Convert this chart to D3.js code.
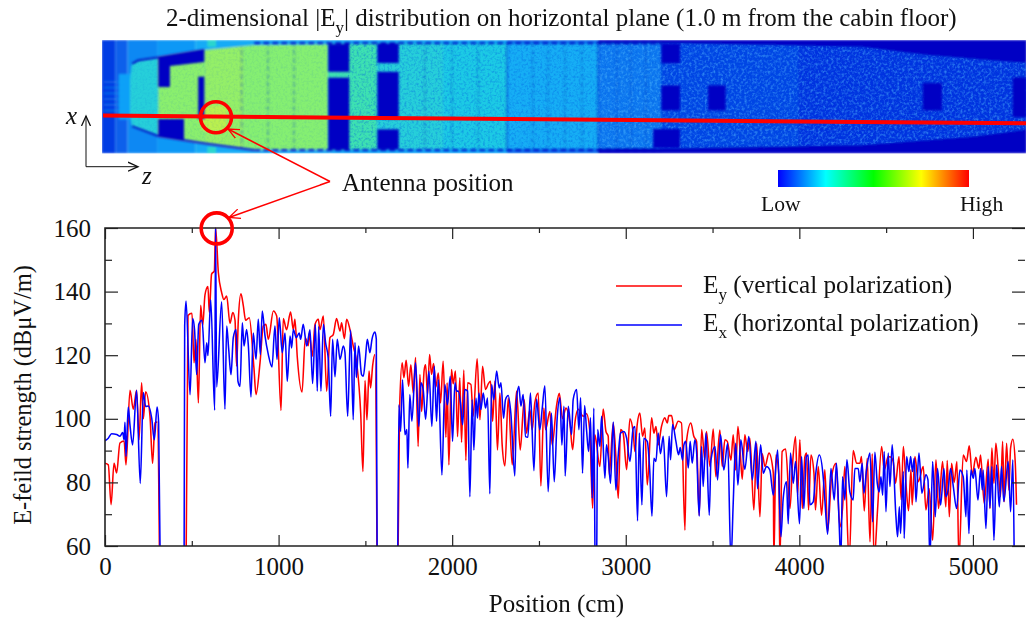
<!DOCTYPE html>
<html>
<head>
<meta charset="utf-8">
<script src="https://cdn.jsdelivr.net/npm/d3@7"></script>
<style>
  html, body { margin: 0; padding: 0; background: #fff; overflow: hidden; }
  svg { display: block; }
  text { font-family: "Liberation Serif", serif; fill: #111; }
</style>
</head>
<body>
<div id="chart"></div>
<script>
// E-field along the cabin as [position cm, dBuV/m]
// values under 60 just run off the bottom of the plot
const eyFront = [[0,86],[19,85.5],[35,73],[52,86],[67,83],[86,92.4],[110,93],[121,85.5],[144,109],[163,103],[182,109],[196,93.4],[211,111.3],[221,100],[234,108.5],[259,101],[274,86],[288,98.7],[301,99],[317,40]];
const exFront = [[0,93.1],[19,93.9],[38,95.3],[67,95.1],[86,94.5],[102,95.7],[110,93.4],[115,98.9],[121,88.2],[134,103.7],[144,98],[159,91.8],[182,109],[203,79.7],[221,108.3],[234,103.9],[250,104],[269,100.2],[284,93.4],[300,103.7],[309,98.7],[321,40]];

const eyMid = [[465,40],[478,132.5],[501,133.2],[513,117.6],[524,125],[538,105],[551,135.7],[563,129.4],[576,139],[593,141.6],[601,133.4],[614,145.5],[630,146.5],[637,160],[653,146],[672,139.7],[685,137.5],[701,138.6],[720,130],[736,133.4],[749,131],[758,116.6],[768,131],[783,139.3],[797,135.5],[810,131],[831,131.8],[858,116],[870,107.6],[893,117.6],[912,129.2],[927,129.7],[941,125],[970,133.9],[989,132.3],[1014,102.6],[1027,131.5],[1046,128],[1069,133.6],[1085,128],[1094,131.3],[1108,119.2],[1135,108.4],[1154,125.5],[1171,123],[1177,127],[1194,119.7],[1210,129.7],[1229,131.3],[1238,128],[1258,132.3],[1277,108.7],[1296,125.5],[1315,126.5],[1334,131.5],[1354,127.6],[1363,130.2],[1379,125.2],[1392,131.3],[1411,128.1],[1430,122.9],[1450,117.6],[1473,101.8],[1486,83.4],[1498,112],[1509,99.7],[1521,115],[1530,109.7],[1542,116.8],[1555,120.2],[1569,40]];
const exMid = [[455,40],[459,129.2],[467,137],[490,107.6],[505,131.5],[516,128],[528,113.9],[540,129.7],[559,131],[576,117.6],[586,123.9],[593,119.9],[609,137.4],[632,102.7],[637,160],[643,110],[672,136.8],[691,103],[701,129.2],[712,122.3],[726,113.9],[739,125.5],[755,128.1],[766,111.8],[778,110.2],[791,130.2],[801,122.9],[816,128.1],[826,122.9],[841,106.9],[854,127],[870,118.7],[883,131.3],[895,120.2],[906,133.9],[922,126],[941,120.2],[962,116.3],[979,129.2],[991,118.7],[1004,131.8],[1021,120.8],[1037,127],[1050,111.8],[1066,126],[1075,122.3],[1085,128.1],[1102,125.5],[1119,127],[1127,125],[1142,129.7],[1162,122.9],[1181,128],[1196,111.1],[1212,129.7],[1223,108.7],[1231,129],[1244,108.7],[1258,129.7],[1271,123.9],[1286,119],[1300,100.8],[1311,125],[1325,113.2],[1338,125],[1354,118.7],[1373,122.9],[1382,121],[1398,100.8],[1415,127.9],[1430,99.7],[1440,124],[1448,113],[1461,122.9],[1478,113.9],[1488,113.4],[1500,118.7],[1511,125],[1526,120.8],[1538,125],[1555,127.3],[1563,125],[1569,40]];

const eyRear = [[1685,40],[1697,102.9],[1712,117.6],[1722,112.9],[1735,118.4],[1749,110.2],[1762,117],[1776,108],[1789,119.3],[1804,91.3],[1814,113.9],[1824,102.3],[1839,115.5],[1847,117],[1858,107.6],[1870,120.2],[1881,114],[1893,117.4],[1906,110],[1920,114.4],[1933,105],[1948,118.1],[1964,94.2],[1971,111.3],[1981,85.5],[1996,115.5],[2006,111],[2019,115],[2031,94.4],[2044,112.9],[2054,92.6],[2067,115.3],[2079,86.9],[2089,111.3],[2108,110.8],[2121,100.8],[2144,118.9],[2160,99.7],[2175,116.5],[2192,109.2],[2208,111],[2221,111.8],[2233,99.2],[2246,111.8],[2261,90.2],[2275,108.1],[2288,91.8],[2304,85.2],[2323,106.5],[2346,85.5],[2371,108.7],[2392,90.2],[2415,106],[2428,95.5],[2448,102.9],[2461,96.5],[2476,105],[2496,108.1],[2511,78.9],[2528,103.4],[2538,96.6],[2563,102.3],[2576,91.8],[2601,104],[2617,108],[2636,100],[2655,103.4],[2678,98.7],[2694,90.3],[2707,98.7],[2726,103],[2755,100.8],[2774,101.6],[2793,96],[2809,71.9],[2822,95],[2851,85],[2870,103.1],[2886,96],[2899,94.5],[2905,82.4],[2928,98.7],[2943,88.2],[2957,75],[2970,96.6],[2985,95.5],[3005,84],[3024,100],[3043,95.5],[3053,89.7],[3066,98.2],[3081,101.8],[3097,94.5],[3110,97.1],[3124,79.2],[3149,100.3],[3162,95.5],[3174,97.6],[3187,91.8],[3206,97.6],[3225,100.3],[3239,98.7],[3248,101],[3264,101],[3279,96.6],[3302,99.2],[3321,98.7],[3341,65],[3350,93],[3375,98.7],[3392,94.5],[3408,92.9],[3423,69.7],[3437,96.6],[3456,87.1],[3465,96],[3485,85],[3504,96.8],[3519,81.8],[3542,96.5],[3556,85],[3571,93.4],[3585,92.9],[3606,87],[3619,95],[3633,83.9],[3646,97.6],[3660,89],[3671,81],[3686,95],[3702,89.7],[3715,93.9],[3738,71.3],[3754,92.3],[3773,69.2],[3786,89],[3802,85],[3825,89.2],[3850,83],[3853,55],[3865,88.6],[3882,82],[3888,55],[3901,89.7],[3921,90.5],[3946,71.8],[3961,86],[3978,94.4],[3990,76],[4003,93.4],[4017,71.8],[4032,88],[4042,89.2],[4053,71.3],[4067,88.6],[4084,83],[4093,71.3],[4109,85],[4128,69.7],[4147,84],[4163,64.5],[4186,81.8],[4211,86],[4234,66],[4249,72],[4262,85],[4287,55],[4310,90],[4330,86],[4349,86],[4358,88.1],[4374,71],[4391,87.6],[4407,61.3],[4420,89],[4430,55],[4451,71.8],[4474,91.3],[4489,83.9],[4512,88.1],[4526,88],[4541,86.5],[4554,79.7],[4574,88.1],[4587,74.5],[4599,91.3],[4614,79.7],[4629,71.1],[4643,84],[4650,72.9],[4666,88.1],[4685,80.2],[4714,85],[4729,71.3],[4748,78],[4768,61.8],[4787,87.1],[4802,71.8],[4825,86.6],[4844,72.3],[4852,86.9],[4864,69.2],[4877,86],[4892,80],[4908,86.6],[4919,55],[4944,88.6],[4963,86.6],[4979,91.5],[4996,82.4],[5017,87.9],[5034,84.4],[5044,88.6],[5065,73.4],[5088,87.3],[5098,71.8],[5109,90.8],[5121,79.7],[5132,92.3],[5146,84],[5159,75.5],[5171,92.9],[5180,73.9],[5194,92.3],[5207,77.6],[5217,90.8],[5230,93.6],[5244,86],[5251,73]];
const exRear = [[1685,40],[1693,104.4],[1703,96],[1714,112.3],[1728,95],[1739,96.6],[1745,84.5],[1756,107.6],[1768,99.2],[1789,117.6],[1808,97.6],[1820,111.3],[1833,109.2],[1847,99.9],[1866,115],[1883,97.6],[1897,116.5],[1910,99.2],[1920,112.3],[1941,82.3],[1958,110.8],[1973,104.4],[1989,113.4],[2002,92.9],[2016,111.3],[2025,108.7],[2035,108.7],[2048,105],[2060,98.1],[2073,109.2],[2089,108.7],[2102,75.5],[2115,106],[2125,90.2],[2137,106.5],[2146,100.2],[2154,108.1],[2165,102.9],[2179,108.1],[2192,103.4],[2204,106.5],[2217,76.4],[2227,110.8],[2240,106],[2256,115],[2271,109.7],[2281,111.3],[2296,100.2],[2307,106],[2323,107.3],[2338,101.8],[2361,82],[2371,106],[2384,110.2],[2396,104],[2409,107.6],[2423,94.4],[2436,94.2],[2451,108.1],[2471,83.7],[2486,106.2],[2505,96.6],[2519,103.4],[2534,110.4],[2553,77.1],[2572,101.8],[2588,80.2],[2605,100.3],[2621,106.6],[2632,91.8],[2644,103.9],[2651,82],[2669,103.9],[2688,95],[2697,106],[2717,109.2],[2730,96.6],[2740,106.6],[2751,82.9],[2763,104.2],[2774,96.6],[2786,89.7],[2797,100.3],[2807,75],[2816,103.4],[2826,40],[2830,40],[2838,96.6],[2851,91.3],[2861,100.8],[2880,81.3],[2889,91.8],[2899,88.2],[2912,79.7],[2928,99],[2943,77.6],[2957,88.7],[2970,95.5],[2989,96],[3005,93.9],[3024,86.6],[3043,97.1],[3053,97.6],[3068,67.9],[3078,95.5],[3093,72.9],[3104,93.9],[3124,92.9],[3137,85],[3151,69.4],[3162,87.6],[3174,86.6],[3187,95.5],[3200,89],[3216,94.5],[3235,75.5],[3250,94.5],[3258,87.1],[3270,98.2],[3289,92.9],[3304,88.7],[3314,91],[3327,87],[3335,91.8],[3346,92.9],[3360,84.5],[3371,92.9],[3383,86],[3398,93.4],[3408,89.7],[3423,69.4],[3437,91.3],[3446,78.7],[3462,95.5],[3481,69.7],[3491,87.1],[3514,91.3],[3529,80.8],[3546,95],[3565,83.9],[3587,92.3],[3606,55],[3619,73.4],[3633,92.3],[3646,79.2],[3663,93.4],[3686,84.1],[3709,94.4],[3729,80.8],[3750,92.9],[3759,78],[3777,91.8],[3792,82.9],[3811,85],[3830,83.9],[3850,76],[3875,90.2],[3894,62.9],[3907,75],[3926,80.2],[3936,67],[3949,89.2],[3965,79.7],[3978,86.6],[4001,67],[4013,88.1],[4026,71.8],[4040,88],[4051,88.6],[4061,73],[4080,73.9],[4093,82],[4115,88.6],[4138,81.3],[4147,74.5],[4163,63.7],[4182,84.4],[4201,74.5],[4214,86],[4230,66],[4239,55],[4249,81.8],[4262,74.5],[4274,87.1],[4291,77],[4310,74.5],[4320,84.4],[4339,84.4],[4349,80.2],[4362,86],[4372,76.6],[4387,83.9],[4407,89.2],[4422,67.6],[4435,89.5],[4449,79.7],[4460,77],[4470,81.8],[4480,76],[4489,89.7],[4499,70.8],[4512,89.2],[4522,78.7],[4535,91.8],[4556,69.7],[4566,62.9],[4576,72.3],[4583,63.9],[4599,83.4],[4604,62.4],[4618,88.1],[4631,83.4],[4641,88.1],[4652,83.4],[4662,87.6],[4672,73.9],[4689,89.2],[4706,76.6],[4729,82.4],[4741,80.8],[4752,55],[4768,86.6],[4783,69.2],[4796,84.4],[4814,72.9],[4833,84.4],[4844,75.5],[4858,78],[4871,84.4],[4887,78.7],[4906,71.8],[4925,83.9],[4944,81.8],[4960,69.2],[4965,83.9],[4977,63.9],[4988,83.9],[5002,81.3],[5011,84.4],[5029,74.5],[5044,84.4],[5054,77.6],[5059,83.9],[5075,65.5],[5088,85],[5098,72],[5109,85],[5121,61.8],[5136,85.5],[5152,72.3],[5165,85],[5178,74],[5203,86.6],[5217,70.8],[5230,87.1],[5238,55]];

const xMajor = [0, 1000, 2000, 3000, 4000, 5000];
const xMinor = [500, 1500, 2500, 3500, 4500];
const yMajor = [60, 80, 100, 120, 140, 160];
const yMinor = [70, 90, 110, 130, 150];

// heat map zones: [z from, z to, % across from, % across to, level]
const outerZones = [[-20,60,0,100,.07],[60,130,0,100,.12],[130,300,0,100,.17],[300,520,0,100,.19],[520,1300,0,100,.23],[1300,2316,0,100,.21],[2316,2840,0,100,.14],[2840,5310,0,100,-.1]];
const noseGlow = [[80,156,30,70,.2],[590,640,0,6,.36],[590,640,94,100,.36]];
const noseRays = [38, 43, 48, 53, 58, 63];
const cabinZones = [[100,307,0,100,.34],[307,572,0,100,.55],[572,800,0,100,.57],[800,1286,0,100,.54],[560,700,20,42,.66],[1286,1569,0,100,.41],[1569,1950,0,100,.34],[1950,2316,0,100,.32],[2316,2840,0,100,.24],[2840,3206,0,100,.15],[3206,4000,0,100,.08],[4000,5310,0,100,.05]];
const darkBlocks = [[537,572,30.4,67.7],[307,455,0,30.4],[1286,1407,72,100],[1286,1407,0,66.8],[1569,1692,79.7,100],[1569,1692,30.4,72],[1569,1692,0,21.3],[3206,3312,79.5,100],[3206,3312,38,60],[3158,3312,0,21.6],[3475,3575,38,60],[4712,4821,38,62],[5230,5310,32,67]];
const galleyBlock = [[307,100],[572,100],[572,80.6],[374,77],[374,58.6],[307,58.6]];
const cabinOutline = [[144,65],[156,79],[190,82],[307,84.7],[572,91.2],[860,95.5],[1700,97],[3312,97],[4360,93.8],[4735,86.8],[5220,80.6],[5310,80],[5310,22],[5290,20.7],[4990,14.8],[4360,7.5],[3312,4.8],[860,3],[572,9],[307,15.4],[156,24],[144,35]];
const bulkheadsFaint = [787, 939, 1089, 1843, 1999, 2149, 2465, 2552, 2650, 2748, 2949, 3030, 3116];
const bulkheadsSolid = [2316, 2840];

const colorStops = [0, .25, .5, .75, 1];
const colorBarColors = ["#0000ff", "#00ffff", "#00ff00", "#ffff00", "#ff0000"];

const W = 1026, H = 621;
const plot = {left: 105, right: 1025, top: 228, bottom: 546};

const svg = d3.select("#chart").append("svg").attr("width", W).attr("height", H);
const defs = svg.append("defs");

const x = d3.scaleLinear().domain([0, 5300]).range([plot.left, plot.right]);
const y = d3.scaleLinear().domain([60, 160]).range([plot.bottom, plot.top]);
const across = d3.scaleLinear().domain([0, 100]).range([153.5, 40]);
// softer than the colour bar, the map in the picture looks washed out
const heat = d3.scaleLinear()
    .domain([-.1, 0, .1, .2, .3, .4, .5, .6, .7])
    .range(["#0000c4", "#0014d8", "#0850e8", "#10a0f8", "#18c4f0", "#38e0b8", "#70ee80", "#a4f05c", "#c8f048"]);

// ---- heat map ----
defs.append("clipPath").attr("id", "mapClip").append("rect")
    .attr("x", 102).attr("y", 40).attr("width", 924).attr("height", 113.5);
const polyLine = d3.line().x(d => x(d[0])).y(d => across(d[1]));
defs.append("clipPath").attr("id", "cabinClip").append("path")
    .attr("d", polyLine(cabinOutline) + "Z");

const soft = defs.append("filter").attr("id", "soft");
soft.append("feGaussianBlur").attr("stdDeviation", .8);

function mottle(id, seed, freq, matrix) {
    const f = defs.append("filter").attr("id", id)
        .attr("x", 0).attr("y", 0).attr("width", 1).attr("height", 1);
    f.append("feTurbulence").attr("type", "fractalNoise")
        .attr("baseFrequency", freq).attr("numOctaves", 2).attr("seed", seed);
    f.append("feColorMatrix").attr("type", "matrix").attr("values", matrix);
}
mottle("mottleDark", 4, .42, "0 0 0 0 0  0 0 0 0 .1  0 0 0 0 .75  2.4 0 0 0 -1.05");
mottle("mottleLight", 9, .38, "0 0 0 0 .1  0 0 0 0 .55  0 0 0 0 1  2.4 0 0 0 -1.05");

const map = svg.append("g").attr("clip-path", "url(#mapClip)");
const mapBase = map.append("g").attr("filter", "url(#soft)");

function zoneRects(parent, zones) {
    parent.selectAll(null).data(zones).join("rect")
        .attr("x", d => x(d[0]))
        .attr("width", d => x(d[1]) - x(d[0]))
        .attr("y", d => across(d[3]))
        .attr("height", d => across(d[2]) - across(d[3]))
        .attr("fill", d => heat(d.length > 4 ? d[4] : -.1));
}

zoneRects(mapBase.append("g"), outerZones);
zoneRects(mapBase.append("g"), noseGlow);
// faint rays coming off the nose
mapBase.selectAll(".ray").data(noseRays).join("line")
    .attr("class", "ray")
    .attr("x1", x(-5)).attr("x2", x(110))
    .attr("y1", d => across(d)).attr("y2", d => across(d))
    .attr("stroke", heat(.22)).attr("stroke-width", 1).attr("opacity", .6);
zoneRects(mapBase.append("g").attr("clip-path", "url(#cabinClip)"), cabinZones);

// mottling sits above the blur so it stays grainy, and under the dark blocks
const grain = map.append("g").attr("clip-path", "url(#cabinClip)");
grain.append("rect").attr("x", x(1400)).attr("y", 40).attr("width", x(5310) - x(1400)).attr("height", 114)
    .attr("filter", "url(#mottleDark)").attr("opacity", .4);
grain.append("rect").attr("x", x(2840)).attr("y", 40).attr("width", x(5310) - x(2840)).attr("height", 114)
    .attr("filter", "url(#mottleLight)").attr("opacity", .5);
grain.append("rect").attr("x", x(100)).attr("y", 40).attr("width", x(1400) - x(100)).attr("height", 114)
    .attr("filter", "url(#mottleDark)").attr("opacity", .1);

const mapSoft = map.append("g").attr("filter", "url(#soft)");
const cabin = mapSoft.append("g").attr("clip-path", "url(#cabinClip)");

cabin.selectAll(".bulkhead").data(bulkheadsFaint).join("line")
    .attr("class", "bulkhead")
    .attr("x1", d => x(d)).attr("x2", d => x(d))
    .attr("y1", 42).attr("y2", 152)
    .attr("stroke", "#0838c0").attr("stroke-width", 1)
    .attr("stroke-dasharray", "5 3").attr("opacity", .6);
cabin.selectAll(".bulkhead2").data(bulkheadsSolid).join("line")
    .attr("class", "bulkhead2")
    .attr("x1", d => x(d)).attr("x2", d => x(d))
    .attr("y1", 42).attr("y2", 152)
    .attr("stroke", "#0838c8").attr("stroke-width", 1.2).attr("opacity", .7);

zoneRects(cabin.append("g"), darkBlocks);
cabin.append("path").attr("d", polyLine(galleyBlock) + "Z").attr("fill", heat(-.1));

// cabin wall: solid at the nose, broken by windows further back
const wallTop = cabinOutline.slice(1, 5), wallBottom = cabinOutline.slice(-5, -1);
[wallTop, wallBottom].forEach(w => {
    mapSoft.append("path").attr("d", polyLine(w)).attr("fill", "none")
        .attr("stroke", heat(-.1)).attr("stroke-width", 1.8);
});
[97.2, 2.9].forEach(t => {
    mapSoft.append("line")
        .attr("x1", x(860)).attr("x2", x(3206))
        .attr("y1", across(t)).attr("y2", across(t))
        .attr("stroke", heat(-.1)).attr("stroke-width", 1.8)
        .attr("stroke-dasharray", "6 3");
});

// cut line through the map
map.append("line").attr("x1", 103).attr("y1", 115.6).attr("x2", 1026).attr("y2", 123.3)
    .attr("stroke", "#ff0000").attr("stroke-width", 4);

// ---- colour bar ----
const grad = defs.append("linearGradient").attr("id", "jet");
grad.selectAll("stop").data(colorStops).join("stop")
    .attr("offset", d => d).attr("stop-color", (d, i) => colorBarColors[i]);
svg.append("rect").attr("x", 778).attr("y", 170).attr("width", 191).attr("height", 17)
    .attr("fill", "url(#jet)");

// ---- plot ----
const g = svg.append("g");
defs.append("clipPath").attr("id", "plotClip").append("rect")
    .attr("x", plot.left).attr("y", plot.top - 1)
    .attr("width", plot.right - plot.left).attr("height", plot.bottom - plot.top + 1);

const line = d3.line().x(d => x(d[0])).y(d => y(d[1])).curve(d3.curveMonotoneX);
const traces = g.append("g").attr("clip-path", "url(#plotClip)");
[[eyFront, eyMid, eyRear, "#ff0000"], [exFront, exMid, exRear, "#0000ff"]].forEach(s => {
    s.slice(0, 3).forEach(seg => {
        traces.append("path").attr("d", line(seg))
            .attr("fill", "none").attr("stroke", s[3])
            .attr("stroke-width", 1.55).attr("stroke-linejoin", "round");
    });
});

function tidy(sel) {
    sel.select(".domain").remove();
    sel.selectAll("line").attr("stroke", "#222").attr("stroke-width", 1.2);
    sel.selectAll("text").attr("font-size", 25).attr("font-family", "Liberation Serif").attr("fill", "#111");
}

g.append("g").attr("transform", `translate(0,${plot.bottom})`)
    .call(d3.axisBottom(x).tickValues(xMajor).tickSizeInner(-11).tickSizeOuter(0).tickPadding(11).tickFormat(d3.format("d")))
    .call(tidy);
g.append("g").attr("transform", `translate(0,${plot.bottom})`)
    .call(d3.axisBottom(x).tickValues(xMinor).tickSizeInner(-5).tickSizeOuter(0).tickFormat(""))
    .call(tidy);
g.append("g").attr("transform", `translate(0,${plot.top})`)
    .call(d3.axisTop(x).tickValues(xMajor).tickSizeInner(-11).tickSizeOuter(0).tickFormat(""))
    .call(tidy);
g.append("g").attr("transform", `translate(0,${plot.top})`)
    .call(d3.axisTop(x).tickValues(xMinor).tickSizeInner(-5).tickSizeOuter(0).tickFormat(""))
    .call(tidy);
g.append("g").attr("transform", `translate(${plot.left},0)`)
    .call(d3.axisLeft(y).tickValues(yMajor).tickSizeInner(-13).tickSizeOuter(0).tickPadding(14))
    .call(tidy);
g.append("g").attr("transform", `translate(${plot.left},0)`)
    .call(d3.axisLeft(y).tickValues(yMinor).tickSizeInner(-7).tickSizeOuter(0).tickFormat(""))
    .call(tidy);
g.append("g").attr("transform", `translate(${plot.right},0)`)
    .call(d3.axisRight(y).tickValues(yMajor).tickSizeInner(-13).tickSizeOuter(0).tickFormat(""))
    .call(tidy);
g.append("g").attr("transform", `translate(${plot.right},0)`)
    .call(d3.axisRight(y).tickValues(yMinor).tickSizeInner(-7).tickSizeOuter(0).tickFormat(""))
    .call(tidy);

// the right side of the frame is cut off in the picture, so three sides only
g.append("path")
    .attr("d", `M${plot.right},${plot.top}H${plot.left}V${plot.bottom}H${plot.right}`)
    .attr("fill", "none").attr("stroke", "#222").attr("stroke-width", 1.6);

// ---- text ----
function label(txt, px, py, size, anchor) {
    return svg.append("text").attr("x", px).attr("y", py)
        .attr("font-size", size).attr("text-anchor", anchor || "start").text(txt);
}
function subLabel(parts, px, py, size) {
    const t = svg.append("text").attr("x", px).attr("y", py).attr("font-size", size);
    parts.forEach(p => {
        if (p.sub) {
            t.append("tspan").attr("dy", size * .28).attr("font-size", size * .68).text(p.sub);
        } else {
            t.append("tspan").attr("dy", p.back ? -size * .28 : 0).text(p.text);
        }
    });
    return t;
}

subLabel([{text: "2-dimensional |E"}, {sub: "y"}, {text: "| distribution on horizontal plane (1.0 m from the cabin floor)", back: true}], 166, 26, 25)
    .style("white-space", "pre");
label("Antenna position", 342, 191, 25);
label("Low", 761, 211, 21.6);
label("High", 960, 211, 21.6);
label("Position (cm)", 556.5, 612, 25, "middle");
svg.append("text")
    .attr("transform", "translate(31,395) rotate(-90)")
    .attr("font-size", 24.4).attr("text-anchor", "middle")
    .text("E-feild strength (dBμV/m)");
label("x", 66, 124, 25).attr("font-style", "italic");
label("z", 142, 184, 25).attr("font-style", "italic");

// legend
[[286, "#ff0000"], [325, "#0000ff"]].forEach(l => {
    svg.append("line").attr("x1", 616).attr("x2", 682).attr("y1", l[0]).attr("y2", l[0])
        .attr("stroke", l[1]).attr("stroke-width", 1.5);
});
subLabel([{text: "E"}, {sub: "y"}, {text: " (vertical polarization)", back: true}], 703, 293, 25.2).style("white-space", "pre");
subLabel([{text: "E"}, {sub: "x"}, {text: " (horizontal polarization)", back: true}], 703, 331, 25.2).style("white-space", "pre");

// ---- annotation ----
function arrowHead(id, color, size) {
    defs.append("marker").attr("id", id)
        .attr("markerUnits", "userSpaceOnUse")
        .attr("viewBox", `${-size} ${-size} ${size * 2} ${size * 2}`)
        .attr("markerWidth", size * 2).attr("markerHeight", size * 2)
        .attr("refX", 0).attr("refY", 0).attr("orient", "auto")
        .append("path").attr("d", `M${-size},${-size * .45}L0,0L${-size},${size * .45}`)
        .attr("fill", "none").attr("stroke", color).attr("stroke-width", 1.3);
}
arrowHead("headRed", "#ff0000", 11);
arrowHead("headBlack", "#111", 10);

[[228, 129], [229, 217.5]].forEach(p => {
    svg.append("line").attr("x1", 330).attr("y1", 181.5).attr("x2", p[0]).attr("y2", p[1])
        .attr("stroke", "#ff0000").attr("stroke-width", 1.5)
        .attr("marker-end", "url(#headRed)");
});
[[216, 117.3], [216.7, 228.4]].forEach(p => {
    svg.append("circle").attr("cx", p[0]).attr("cy", p[1]).attr("r", 15.5)
        .attr("fill", "none").attr("stroke", "#ff0000").attr("stroke-width", 3.6);
});
svg.append("line").attr("x1", 86).attr("y1", 166.7).attr("x2", 86).attr("y2", 116)
    .attr("stroke", "#111").attr("stroke-width", 1).attr("marker-end", "url(#headBlack)");
svg.append("line").attr("x1", 86).attr("y1", 166.7).attr("x2", 138).attr("y2", 166.7)
    .attr("stroke", "#111").attr("stroke-width", 1).attr("marker-end", "url(#headBlack)");
</script>
</body>
</html>
